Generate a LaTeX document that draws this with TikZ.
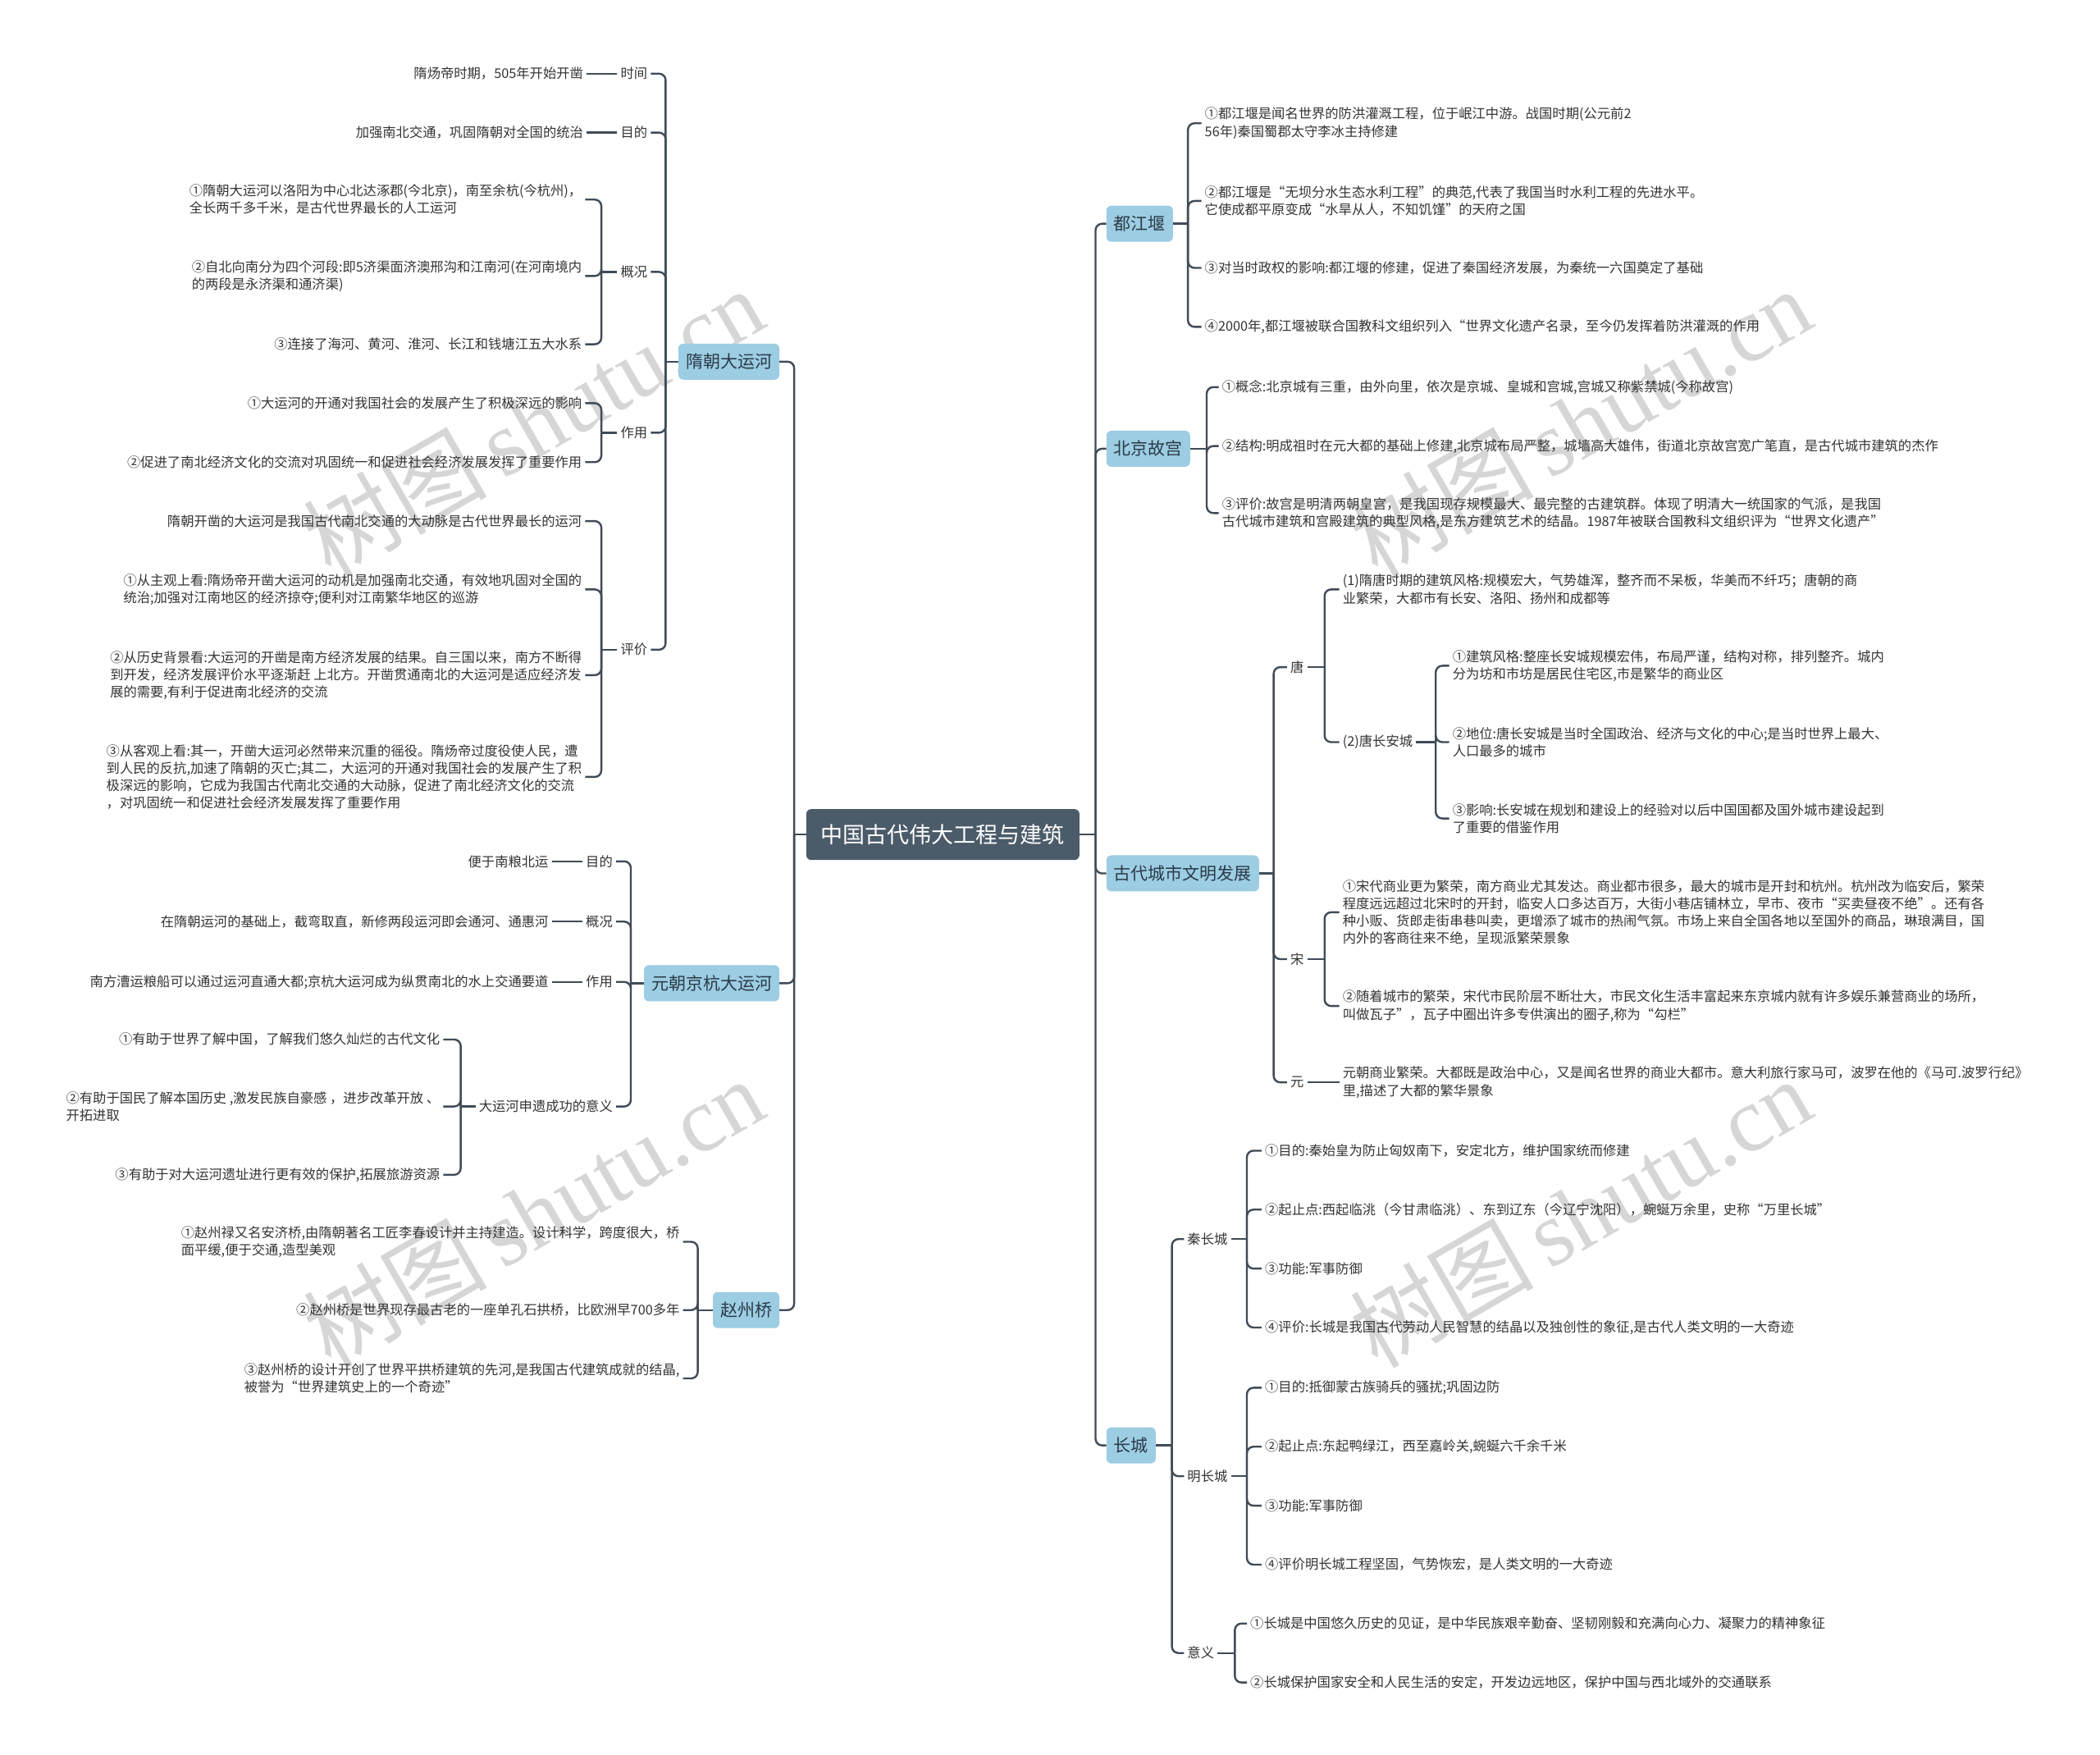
\documentclass[tikz,border=0pt]{standalone}
\usepackage{fontspec}
\setmainfont{Noto Sans CJK SC}
\newfontfamily\wmfont{Liberation Serif}
\definecolor{lc}{HTML}{3F4B57}
\definecolor{rootc}{HTML}{4B5B69}
\definecolor{brc}{HTML}{9CCDE3}
\definecolor{brt}{HTML}{2B3A48}
\definecolor{txt}{HTML}{333333}
\definecolor{wm}{HTML}{D6D6D6}
\tikzset{
  conn/.style={draw=lc, line width=2.4pt, rounded corners=8pt},
  rootbox/.style={fill=rootc, text=white, rounded corners=6pt, font=\fontsize{27}{32}\selectfont, inner xsep=18pt, minimum height=62pt},
  brbox/.style={fill=brc, text=brt, rounded corners=6pt, font=\fontsize{21}{25}\selectfont, inner xsep=9pt, minimum height=44pt},
  lbl/.style={text=txt, font=\fontsize{16.3}{21.2}\selectfont, inner xsep=4pt, inner ysep=2pt},
  leaf/.style={lbl, align=left},
  wmark/.style={text=wm, rotate=30, font=\fontsize{112}{120}\selectfont}
}
\begin{document}
\begin{tikzpicture}[x=1.6327pt,y=-1.6327pt]
\useasboundingbox (0,0) rectangle (1568,1310);
\fill[white] (0,0) rectangle (1568,1310);
% watermarks
\node[wmark] (wm1) at (398,315) {树图\,{\wmfont shutu.cn}};
\node[wmark] (wm2) at (1180,315) {树图\,{\wmfont shutu.cn}};
\node[wmark] (wm3) at (398,905) {树图\,{\wmfont shutu.cn}};
\node[wmark] (wm4) at (1180,905) {树图\,{\wmfont shutu.cn}};

% root
\node[rootbox] (root) at (704,623) {中国古代伟大工程与建筑};
\coordinate (Lj) at (593,623);
\coordinate (Rj) at (818,623);

% ===== LEFT =====
\node[brbox, anchor=east] (sui) at (582,270) {隋朝大运河};
\node[brbox, anchor=east] (yuan) at (582,734) {元朝京杭大运河};
\node[brbox, anchor=east] (zhao) at (582,978) {赵州桥};
\draw[conn] (root.west) -- (Lj);
\foreach \c in {sui,yuan,zhao} \draw[conn] (Lj) |- (\c.east);

% sui
\node[lbl, anchor=east] (s1) at (486,55) {时间};
\node[lbl, anchor=east] (s2) at (486,99) {目的};
\node[lbl, anchor=east] (s3) at (486,203) {概况};
\node[lbl, anchor=east] (s4) at (486,323) {作用};
\node[lbl, anchor=east] (s5) at (486,485) {评价};
\coordinate (suij) at (497,270);
\draw[conn] (sui.west) -- (suij);
\foreach \c in {s1,s2,s3,s4,s5} \draw[conn] (suij) |- (\c.east);

\node[leaf, anchor=east] (s1a) at (438,55) {隋炀帝时期，505年开始开凿};
\node[leaf, anchor=east] (s2a) at (438,99) {加强南北交通，巩固隋朝对全国的统治};
\draw[conn] (s1.west) -- (s1a.east);
\draw[conn] (s2.west) -- (s2a.east);

\node[leaf, anchor=east] (s3a) at (437,149) {①隋朝大运河以洛阳为中心北达涿郡(今北京)，南至余杭(今杭州)，\\全长两千多千米，是古代世界最长的人工运河};
\node[leaf, anchor=east] (s3b) at (437,206) {②自北向南分为四个河段:即5济渠面济澳邢沟和江南河(在河南境内\\的两段是永济渠和通济渠)};
\node[leaf, anchor=east] (s3c) at (437,257) {③连接了海河、黄河、淮河、长江和钱塘江五大水系};
\coordinate (s3j) at (449,203);
\draw[conn] (s3.west) -- (s3j);
\foreach \c in {s3a,s3b,s3c} \draw[conn] (s3j) |- (\c.east);

\node[leaf, anchor=east] (s4a) at (437,301) {①大运河的开通对我国社会的发展产生了积极深远的影响};
\node[leaf, anchor=east] (s4b) at (437,345) {②促进了南北经济文化的交流对巩固统一和促进社会经济发展发挥了重要作用};
\coordinate (s4j) at (449,323);
\draw[conn] (s4.west) -- (s4j);
\foreach \c in {s4a,s4b} \draw[conn] (s4j) |- (\c.east);

\node[leaf, anchor=east] (s5a) at (437,389) {隋朝开凿的大运河是我国古代南北交通的大动脉是古代世界最长的运河};
\node[leaf, anchor=east] (s5b) at (437,440) {①从主观上看:隋炀帝开凿大运河的动机是加强南北交通，有效地巩固对全国的\\统治;加强对江南地区的经济掠夺;便利对江南繁华地区的巡游};
\node[leaf, anchor=east] (s5c) at (437,504) {②从历史背景看:大运河的开凿是南方经济发展的结果。自三国以来，南方不断得\\到开发，经济发展评价水平逐渐赶 上北方。开凿贯通南北的大运河是适应经济发\\展的需要,有利于促进南北经济的交流};
\node[leaf, anchor=east] (s5d) at (437,580) {③从客观上看:其一，开凿大运河必然带来沉重的徭役。隋炀帝过度役使人民，遭\\到人民的反抗,加速了隋朝的灭亡;其二，大运河的开通对我国社会的发展产生了积\\极深远的影响，它成为我国古代南北交通的大动脉，促进了南北经济文化的交流\\，对巩固统一和促进社会经济发展发挥了重要作用};
\coordinate (s5j) at (449,485);
\draw[conn] (s5.west) -- (s5j);
\foreach \c in {s5a,s5b,s5c,s5d} \draw[conn] (s5j) |- (\c.east);

% yuan
\node[lbl, anchor=east] (y1) at (460,643) {目的};
\node[lbl, anchor=east] (y2) at (460,688) {概况};
\node[lbl, anchor=east] (y3) at (460,733) {作用};
\node[lbl, anchor=east] (y4) at (460,826) {大运河申遗成功的意义};
\coordinate (yuanj) at (471,734);
\draw[conn] (yuan.west) -- (yuanj);
\foreach \c in {y1,y2,y3,y4} \draw[conn] (yuanj) |- (\c.east);

\node[leaf, anchor=east] (y1a) at (412,643) {便于南粮北运};
\node[leaf, anchor=east] (y2a) at (412,688) {在隋朝运河的基础上，截弯取直，新修两段运河即会通河、通惠河};
\node[leaf, anchor=east] (y3a) at (412,733) {南方漕运粮船可以通过运河直通大都;京杭大运河成为纵贯南北的水上交通要道};
\draw[conn] (y1.west) -- (y1a.east);
\draw[conn] (y2.west) -- (y2a.east);
\draw[conn] (y3.west) -- (y3a.east);

\node[leaf, anchor=east] (y4a) at (331,776) {①有助于世界了解中国，了解我们悠久灿烂的古代文化};
\node[leaf, anchor=east] (y4b) at (331,826) {②有助于国民了解本国历史 ,激发民族自豪感 ，进步改革开放 、\\开拓进取};
\node[leaf, anchor=east] (y4c) at (331,877) {③有助于对大运河遗址进行更有效的保护,拓展旅游资源};
\coordinate (y4j) at (344,826);
\draw[conn] (y4.west) -- (y4j);
\foreach \c in {y4a,y4b,y4c} \draw[conn] (y4j) |- (\c.east);

% zhao
\node[leaf, anchor=east] (z1) at (510,927) {①赵州禄又名安济桥,由隋朝著名工匠李春设计并主持建造。设计科学，跨度很大，桥\\面平缓,便于交通,造型美观};
\node[leaf, anchor=east] (z2) at (510,978) {②赵州桥是世界现存最古老的一座单孔石拱桥，比欧洲早700多年};
\node[leaf, anchor=east] (z3) at (510,1029) {③赵州桥的设计开创了世界平拱桥建筑的先河,是我国古代建筑成就的结晶,\\被誉为“世界建筑史上的一个奇迹”};
\coordinate (zhaoj) at (521,978);
\draw[conn] (zhao.west) -- (zhaoj);
\foreach \c in {z1,z2,z3} \draw[conn] (zhaoj) |- (\c.east);

% ===== RIGHT =====
\node[brbox, anchor=west] (dj) at (826,167) {都江堰};
\node[brbox, anchor=west] (gg) at (826,335) {北京故宫};
\node[brbox, anchor=west] (gd) at (826,652) {古代城市文明发展};
\node[brbox, anchor=west] (cc) at (826,1079) {长城};
\draw[conn] (root.east) -- (Rj);
\foreach \c in {dj,gg,gd,cc} \draw[conn] (Rj) |- (\c.west);

% dujiangyan
\node[leaf, anchor=west] (d1) at (897,92) {①都江堰是闻名世界的防洪灌溉工程，位于岷江中游。战国时期(公元前2\\56年)秦国蜀郡太守李冰主持修建};
\node[leaf, anchor=west] (d2) at (897,150) {②都江堰是“无坝分水生态水利工程”的典范,代表了我国当时水利工程的先进水平。\\它使成都平原变成“水旱从人，不知饥馑”的天府之国};
\node[leaf, anchor=west] (d3) at (897,200) {③对当时政权的影响:都江堰的修建，促进了秦国经济发展，为秦统一六国奠定了基础};
\node[leaf, anchor=west] (d4) at (897,244) {④2000年,都江堰被联合国教科文组织列入“世界文化遗产名录，至今仍发挥着防洪灌溉的作用};
\coordinate (djj) at (887,167);
\draw[conn] (dj.east) -- (djj);
\foreach \c in {d1,d2,d3,d4} \draw[conn] (djj) |- (\c.west);

% gugong
\node[leaf, anchor=west] (g1) at (910,289) {①概念:北京城有三重，由外向里，依次是京城、皇城和宫城,宫城又称紫禁城(今称故宫)};
\node[leaf, anchor=west] (g2) at (910,333) {②结构:明成祖时在元大都的基础上修建,北京城布局严整，城墙高大雄伟，街道北京故宫宽广笔直，是古代城市建筑的杰作};
\node[leaf, anchor=west] (g3) at (910,383) {③评价:故宫是明清两朝皇宫，是我国现存规模最大、最完整的古建筑群。体现了明清大一统国家的气派，是我国\\古代城市建筑和宫殿建筑的典型风格,是东方建筑艺术的结晶。1987年被联合国教科文组织评为“世界文化遗产”};
\coordinate (ggj) at (901,335);
\draw[conn] (gg.east) -- (ggj);
\foreach \c in {g1,g2,g3} \draw[conn] (ggj) |- (\c.west);

% gudai chengshi
\node[lbl, anchor=west] (tang) at (961,498) {唐};
\node[lbl, anchor=west] (song) at (961,716) {宋};
\node[lbl, anchor=west] (yuan2) at (961,808) {元};
\coordinate (gdj) at (951,652);
\draw[conn] (gd.east) -- (gdj);
\foreach \c in {tang,song,yuan2} \draw[conn] (gdj) |- (\c.west);

\node[leaf, anchor=west] (t1) at (1000,440) {(1)隋唐时期的建筑风格:规模宏大，气势雄浑，整齐而不呆板，华美而不纤巧；唐朝的商\\业繁荣，大都市有长安、洛阳、扬州和成都等};
\node[lbl, anchor=west] (t2) at (1000,554) {(2)唐长安城};
\coordinate (tangj) at (989,498);
\draw[conn] (tang.east) -- (tangj);
\foreach \c in {t1,t2} \draw[conn] (tangj) |- (\c.west);

\node[leaf, anchor=west] (t2a) at (1082,497) {①建筑风格:整座长安城规模宏伟，布局严谨，结构对称，排列整齐。城内\\分为坊和市坊是居民住宅区,市是繁华的商业区};
\node[leaf, anchor=west] (t2b) at (1082,554) {②地位:唐长安城是当时全国政治、经济与文化的中心;是当时世界上最大、\\人口最多的城市};
\node[leaf, anchor=west] (t2c) at (1082,611) {③影响:长安城在规划和建设上的经验对以后中国国都及国外城市建设起到\\了重要的借鉴作用};
\coordinate (t2j) at (1072,554);
\draw[conn] (t2.east) -- (t2j);
\foreach \c in {t2a,t2b,t2c} \draw[conn] (t2j) |- (\c.west);

\node[leaf, anchor=west] (so1) at (1000,681) {①宋代商业更为繁荣，南方商业尤其发达。商业都市很多，最大的城市是开封和杭州。杭州改为临安后，繁荣\\程度远远超过北宋时的开封，临安人口多达百万，大街小巷店铺林立，早市、夜市“买卖昼夜不绝”。还有各\\种小贩、货郎走街串巷叫卖，更增添了城市的热闹气氛。市场上来自全国各地以至国外的商品，琳琅满目，国\\内外的客商往来不绝，呈现派繁荣景象};
\node[leaf, anchor=west] (so2) at (1000,751) {②随着城市的繁荣，宋代市民阶层不断壮大，市民文化生活丰富起来东京城内就有许多娱乐兼营商业的场所，\\叫做瓦子”，瓦子中圈出许多专供演出的圈子,称为“勾栏”};
\coordinate (songj) at (989,716);
\draw[conn] (song.east) -- (songj);
\foreach \c in {so1,so2} \draw[conn] (songj) |- (\c.west);

\node[leaf, anchor=west] (yu1) at (1000,808) {元朝商业繁荣。大都既是政治中心，又是闻名世界的商业大都市。意大利旅行家马可，波罗在他的《马可.波罗行纪》\\里,描述了大都的繁华景象};
\draw[conn] (yuan2.east) -- (yu1.west);

% changcheng
\node[lbl, anchor=west] (qin) at (884,925) {秦长城};
\node[lbl, anchor=west] (ming) at (884,1102) {明长城};
\node[lbl, anchor=west] (yy) at (884,1234) {意义};
\coordinate (ccj) at (875,1079);
\draw[conn] (cc.east) -- (ccj);
\foreach \c in {qin,ming,yy} \draw[conn] (ccj) |- (\c.west);

\node[leaf, anchor=west] (q1) at (942,859) {①目的:秦始皇为防止匈奴南下，安定北方，维护国家统而修建};
\node[leaf, anchor=west] (q2) at (942,903) {②起止点:西起临洮（今甘肃临洮）、东到辽东（今辽宁沈阳），蜿蜒万余里，史称“万里长城”};
\node[leaf, anchor=west] (q3) at (942,947) {③功能:军事防御};
\node[leaf, anchor=west] (q4) at (942,991) {④评价:长城是我国古代劳动人民智慧的结晶以及独创性的象征,是古代人类文明的一大奇迹};
\coordinate (qinj) at (931,925);
\draw[conn] (qin.east) -- (qinj);
\foreach \c in {q1,q2,q3,q4} \draw[conn] (qinj) |- (\c.west);

\node[leaf, anchor=west] (m1) at (942,1036) {①目的:抵御蒙古族骑兵的骚扰;巩固边防};
\node[leaf, anchor=west] (m2) at (942,1080) {②起止点:东起鸭绿江，西至嘉岭关,蜿蜒六千余千米};
\node[leaf, anchor=west] (m3) at (942,1124) {③功能:军事防御};
\node[leaf, anchor=west] (m4) at (942,1168) {④评价明长城工程坚固，气势恢宏，是人类文明的一大奇迹};
\coordinate (mingj) at (931,1102);
\draw[conn] (ming.east) -- (mingj);
\foreach \c in {m1,m2,m3,m4} \draw[conn] (mingj) |- (\c.west);

\node[leaf, anchor=west] (e1) at (931,1212) {①长城是中国悠久历史的见证，是中华民族艰辛勤奋、坚韧刚毅和充满向心力、凝聚力的精神象征};
\node[leaf, anchor=west] (e2) at (931,1256) {②长城保护国家安全和人民生活的安定，开发边远地区，保护中国与西北域外的交通联系};
\coordinate (yyj) at (922,1234);
\draw[conn] (yy.east) -- (yyj);
\foreach \c in {e1,e2} \draw[conn] (yyj) |- (\c.west);
\end{tikzpicture}
\end{document}
